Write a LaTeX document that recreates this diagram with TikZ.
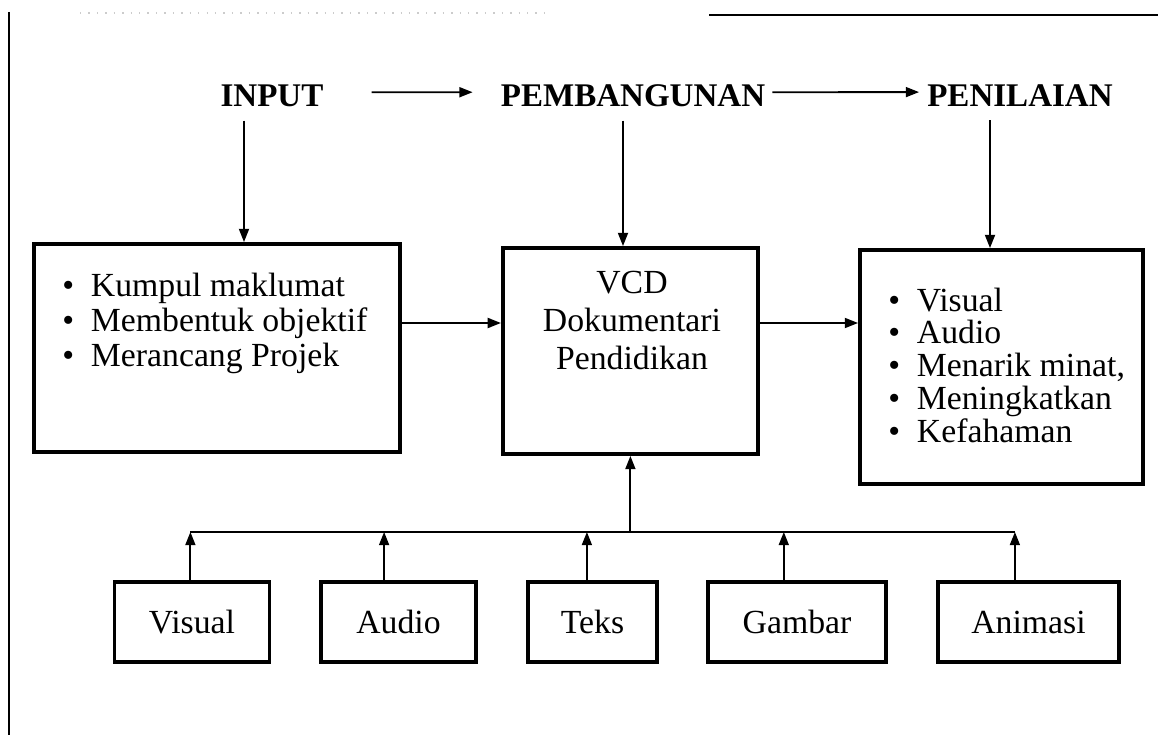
\documentclass[tikz,border=0pt]{standalone}
\usepackage{fontspec}
\setmainfont{Liberation Serif}
\usetikzlibrary{arrows.meta}

\begin{document}
\begin{tikzpicture}[
  font=\fontsize{24}{28}\selectfont,
  box/.style={draw, line width=2.8pt, inner sep=0pt},
  head/.style={font=\fontsize{23.5}{28}\selectfont\bfseries, inner sep=0pt, anchor=base},
  item/.style={inner sep=0pt, anchor=base west},
  arr/.style={line width=1.3pt, -{Triangle[length=3.3mm,width=2.5mm]}}
]
\useasboundingbox (0,0) rectangle (28.95,18.375);
\draw[line width=1.6pt] (0.225,18.075) -- (0.225,0);
\draw[line width=2pt] (17.725,18.0) -- (28.95,18.0);
\draw[gray!40, line width=1pt, dash pattern=on 1pt off 5pt] (2.0,18.05) -- (13.65,18.05);

\node[head] (input) at (6.8,15.7) {INPUT};
\node[head] (build) at (15.825,15.7) {PEMBANGUNAN};
\node[head] (assess) at (25.5,15.7) {PENILAIAN};
\draw[arr] ([xshift=1.2cm,yshift=0.1cm]input.east) -- ([xshift=-0.7cm,yshift=0.1cm]build.west);
\draw[arr] ([xshift=0.175cm,yshift=0.1cm]build.east) -- ([xshift=-0.2cm,yshift=0.1cm]assess.west);

\node[box, minimum width=9.15cm, minimum height=5.2cm] (plan) at (5.425,9.675) {};
\node[box, minimum width=6.375cm, minimum height=5.15cm] (vcd) at (15.76,9.6) {};
\node[box, minimum width=7.075cm, minimum height=5.85cm] (eval) at (25.0375,9.2) {};

\draw[arr] ([xshift=-0.7cm,yshift=-0.325cm]input.south) -- ([xshift=-0.7cm]input.south |- plan.north);
\draw[arr] ([xshift=-0.25cm,yshift=-0.325cm]build.south) -- ([xshift=-0.25cm]build.south |- vcd.north);
\draw[arr] ([xshift=-0.75cm,yshift=-0.325cm]assess.south) -- ([xshift=-0.75cm]assess.south |- eval.north);

\foreach \t [count=\i from 0] in {Kumpul maklumat, Membentuk objektif, Merancang Projek}
  \node[item] (plan-\i) at (1.55,10.975-0.875*\i) {\textbullet\enspace\t};
\foreach \t [count=\i from 0] in {VCD, Dokumentari, Pendidikan}
  \node[inner sep=0pt, anchor=base] (vcd-\i) at (15.8,11.05-0.96*\i) {\t};
\foreach \t [count=\i from 0] in {Visual, Audio, {Menarik minat,}, Meningkatkan, Kefahaman}
  \node[item] (eval-\i) at (22.2,10.6-0.82*\i) {\textbullet\enspace\t};

\coordinate (flow) at (0,10.3);
\draw[arr] (plan.east |- flow) -- (vcd.west |- flow);
\draw[arr] (vcd.east |- flow) -- (eval.west |- flow);

\coordinate (bus) at (0,5.075);
\foreach \n/\x/\w/\s/\t in {visual/4.8/3.875/-0.04/Visual, audio/9.9625/3.875/-0.36/Audio, teks/14.8125/3.225/-0.14/Teks, gambar/19.925/4.4625/-0.33/Gambar, animasi/25.7125/4.525/-0.34/Animasi}
{
  \node[box, minimum width=\w cm, minimum height=2cm] (\n) at (\x,2.825) {\t};
  \draw[arr] ([xshift=\s cm]\n.north) -- ([xshift=\s cm]\n.north |- bus);
}
\draw[line width=1.3pt] ([xshift=-0.04cm]visual.north |- bus) -- ([xshift=-0.34cm]animasi.north |- bus);
\draw[arr] (vcd.south |- bus) -- (vcd.south);

\end{tikzpicture}
\end{document}
